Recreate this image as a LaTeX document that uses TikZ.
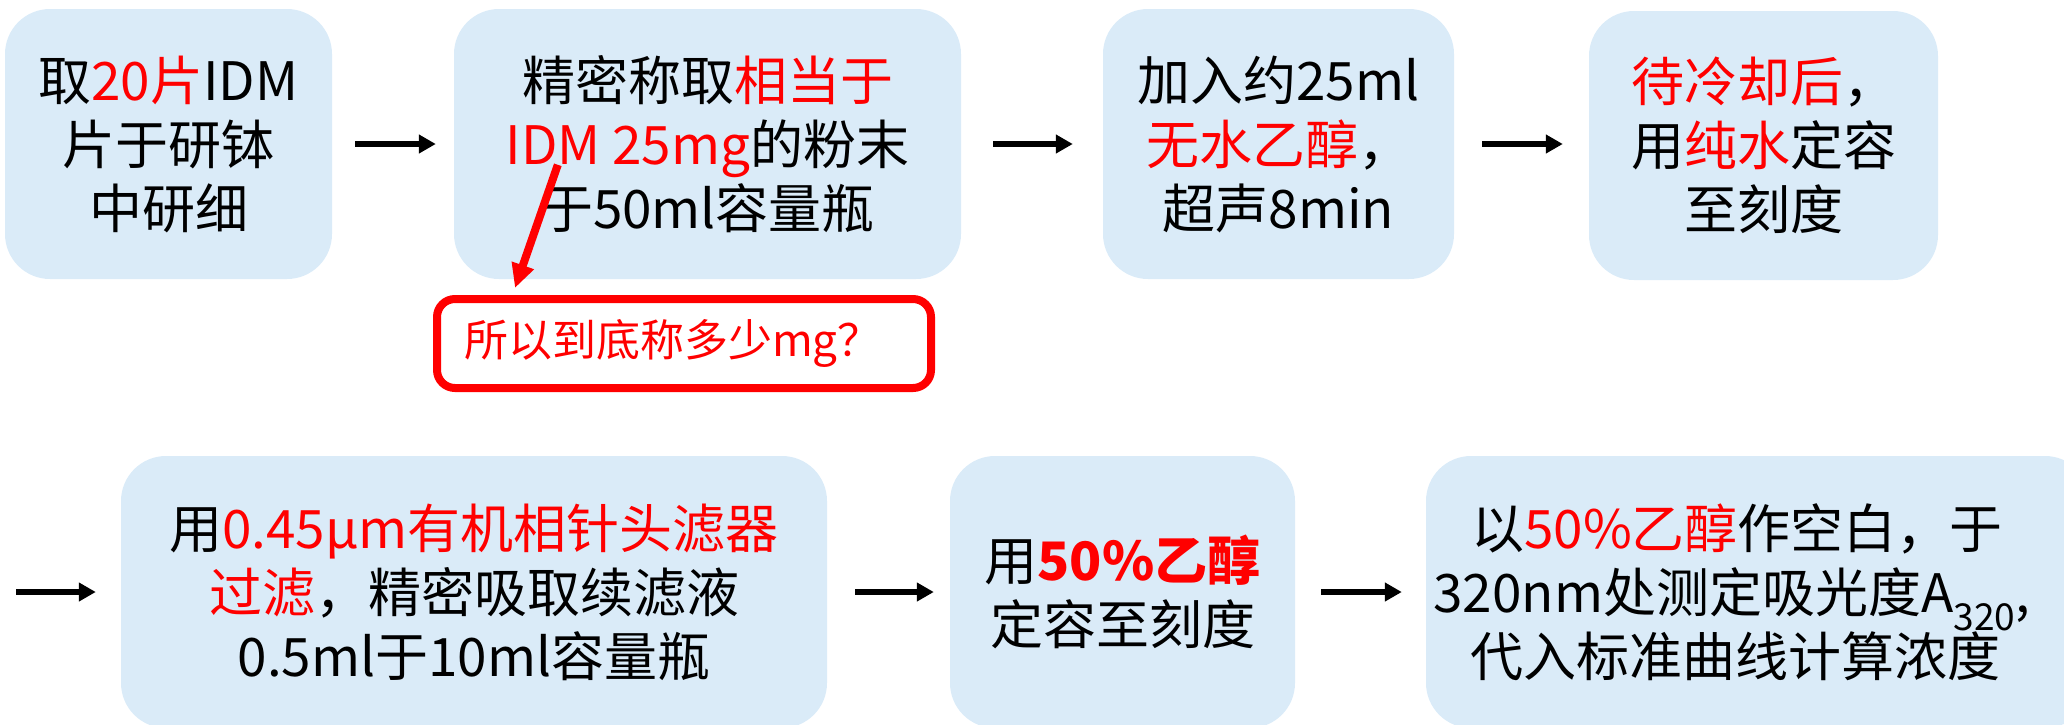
\documentclass[tikz,border=0pt]{standalone}
\usepackage{fontspec}
\setmainfont{Noto Sans CJK SC}
\usetikzlibrary{arrows.meta,calc}
\definecolor{boxblue}{RGB}{218,235,248}
\definecolor{hl}{RGB}{255,0,0}
\newcommand{\hi}[1]{\textcolor{hl}{#1}}
\begin{document}
\begin{tikzpicture}[x=1pt,y=-1pt,
  stepbox/.style={fill=boxblue, rounded corners=45pt, inner sep=0pt, align=center, font=\fontsize{53}{64}\selectfont},
  arr/.style={line width=6pt, -{Triangle[length=17pt,width=18pt]}},
  redarr/.style={draw=hl, line width=8pt, -{Triangle[length=24pt,width=22pt]}},
  callout/.style={draw=hl, line width=8pt, rounded corners=18pt, fill=white, text=hl, inner sep=0pt, font=\fontsize{44}{50}\selectfont}]
\useasboundingbox (0,0) rectangle (2064,724);

% row 1
\node[stepbox, minimum width=327pt, minimum height=270pt] (b1) at (168.5,144) {取\hi{20片}IDM\\片于研钵\\中研细};
\node[stepbox, minimum width=507pt, minimum height=270pt] (b2) at (707.5,144) {精密称取\hi{相当于}\\\hi{IDM 25mg}的粉末\\于50ml容量瓶};
\node[stepbox, minimum width=351pt, minimum height=270pt] (b3) at (1278.5,144) {加入约25ml\\\hi{无水乙醇}，\\超声8min};
\node[stepbox, minimum width=349pt, minimum height=269pt] (b4) at (1763.5,145.5) {\hi{待冷却后}，\\用\hi{纯水}定容\\至刻度};

% callout
\node[callout, minimum width=494pt, minimum height=89pt] (q) at (684,343.5) {所以到底称多少mg？\hspace*{22pt}};

% row 2
\node[stepbox, minimum width=706pt, minimum height=272pt] (b5) at (474,592) {用\hi{0.45μm有机相针头滤器}\\\hi{过滤}，精密吸取续滤液\\0.5ml于10ml容量瓶};
\node[stepbox, minimum width=345pt, minimum height=272pt] (b6) at (1122.5,592) {用\textbf{\hi{50\%乙醇}}\\定容至刻度};
\node[stepbox, minimum width=664pt, minimum height=272pt] (b7) at (1758,592) {\hspace*{-42pt}以\hi{50\%乙醇}作空白，于\\\hspace*{-52pt}320nm处测定吸光度A\textsubscript{320},\\\hspace*{-45pt}代入标准曲线计算浓度};

% arrows row 1
\draw[arr, shorten <=23pt, shorten >=18pt] (b1) -- (b2);
\draw[arr, shorten <=32pt, shorten >=30pt] (b2) -- (b3);
\draw[arr, shorten <=28pt, shorten >=26pt] (b3.east) -- (b3.east -| b4.west);

% arrows row 2
\coordinate (s5) at (16,592);
\draw[arr, shorten >=25pt] (s5) -- (b5.west);
\draw[arr, shorten <=28pt, shorten >=16pt] (b5) -- (b6);
\draw[arr, shorten <=26pt, shorten >=24pt] (b6.east) -- (b6.east -| b7.west);

% red arrow
\coordinate (rs) at ($(b2.north west)+(104,156)$);
\coordinate (rt) at ($(q.north west)+(82,-7)$);
\draw[redarr] (rs) -- (rt);
\end{tikzpicture}
\end{document}
